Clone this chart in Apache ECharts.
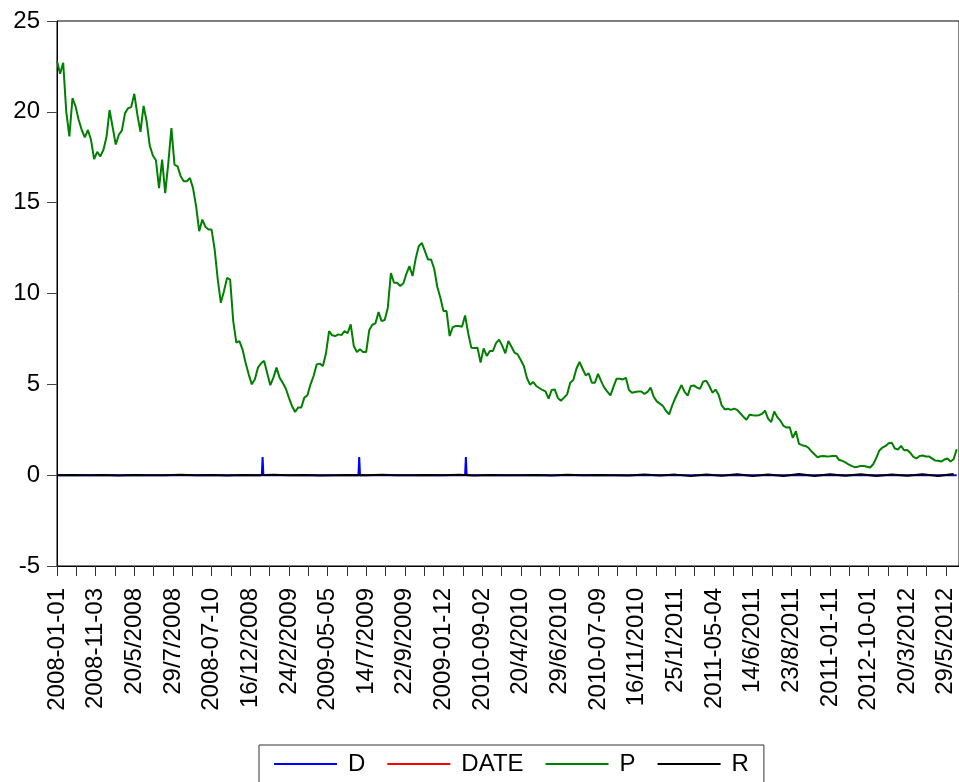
<!DOCTYPE html>
<html>
<head>
<meta charset="utf-8">
<script src="https://cdn.jsdelivr.net/npm/echarts@6/dist/echarts.min.js"></script>
<style>
  html, body { margin: 0; padding: 0; background: #fff; }
  #chart { width: 959px; height: 782px; }
</style>
</head>
<body>
<div id="chart"></div>
<script>
// Observation-axis tick labels, one every 50 observations
const tickLabels = ['2008-01-01', '2008-11-03', '20/5/2008', '29/7/2008', '2008-07-10', '16/12/2008',
  '24/2/2009', '2009-05-05', '14/7/2009', '22/9/2009', '2009-01-12', '2010-09-02', '20/4/2010',
  '29/6/2010', '2010-07-09', '16/11/2010', '25/1/2011', '2011-05-04', '14/6/2011', '23/8/2011',
  '2011-01-11', '2012-10-01', '20/3/2012', '29/5/2012'];
const lastObs = 1164;
const labelEvery = 50;
const tickEvery = 25;

// P: price, sampled every 4 observations
const pStep = 4;
const pValues = [
  22.8, 22.1, 22.7, 20.0, 18.65, 20.75, 20.3, 19.56, 19.0, 18.6,
  19.0, 18.46, 17.4, 17.8, 17.55, 17.9, 18.6, 20.1, 19.16, 18.2,
  18.74, 18.98, 19.93, 20.2, 20.26, 20.99, 19.84, 18.9, 20.33, 19.47,
  18.14, 17.6, 17.33, 15.8, 17.37, 15.53, 17.18, 19.1, 17.1, 17.0,
  16.45, 16.18, 16.18, 16.36, 15.8, 14.8, 13.43, 14.07, 13.67, 13.52,
  13.52, 12.42, 10.77, 9.49, 10.13, 10.86, 10.77, 8.48, 7.29, 7.38,
  6.93, 6.19, 5.55, 5.0, 5.28, 5.92, 6.16, 6.29, 5.61, 4.95,
  5.37, 5.92, 5.37, 5.09, 4.77, 4.27, 3.81, 3.48, 3.72, 3.72,
  4.27, 4.40, 5.00, 5.46, 6.10, 6.14, 6.01, 6.71, 7.93, 7.70,
  7.66, 7.75, 7.71, 7.93, 7.81, 8.30, 7.11, 6.78, 6.93, 6.78,
  6.78, 7.99, 8.28, 8.36, 8.98, 8.48, 8.54, 9.22, 11.12, 10.59,
  10.59, 10.41, 10.55, 11.08, 11.51, 10.96, 11.91, 12.60, 12.79, 12.33,
  11.87, 11.87, 11.36, 10.37, 9.77, 9.03, 9.03, 7.66, 8.15, 8.21,
  8.21, 8.17, 8.79, 7.81, 7.02, 7.00, 7.02, 6.2, 6.98, 6.56,
  6.84, 6.84, 7.27, 7.46, 7.13, 6.71, 7.38, 7.07, 6.74, 6.65,
  6.34, 6.01, 5.35, 4.98, 5.13, 4.91, 4.80, 4.69, 4.61, 4.21,
  4.69, 4.72, 4.25, 4.10, 4.27, 4.45, 5.09, 5.24, 5.86, 6.23,
  5.86, 5.49, 5.60, 5.09, 5.09, 5.58, 5.18, 4.82, 4.60, 4.39,
  4.87, 5.31, 5.31, 5.27, 5.36, 4.69, 4.54, 4.58, 4.61, 4.61,
  4.47, 4.58, 4.82, 4.32, 4.06, 3.94, 3.81, 3.53, 3.35, 3.84,
  4.25, 4.61, 4.96, 4.58, 4.38, 4.91, 4.94, 4.82, 4.76, 5.15,
  5.20, 4.91, 4.54, 4.71, 4.43, 3.84, 3.62, 3.66, 3.59, 3.66,
  3.59, 3.41, 3.22, 3.05, 3.33, 3.30, 3.28, 3.30, 3.37, 3.55,
  3.11, 2.93, 3.5, 3.19, 2.99, 2.71, 2.62, 2.64, 2.05, 2.42,
  1.72, 1.65, 1.61, 1.52, 1.32, 1.15, 0.99, 1.04, 1.06, 1.03,
  1.04, 1.06, 1.06, 0.83, 0.79, 0.70, 0.60, 0.51, 0.44, 0.46,
  0.51, 0.51, 0.46, 0.42, 0.60, 0.95, 1.36, 1.52, 1.61, 1.76,
  1.79, 1.47, 1.41, 1.61, 1.37, 1.39, 1.23, 1.01, 0.92, 1.06,
  1.08, 1.03, 1.03, 0.92, 0.81, 0.79, 0.75, 0.86, 0.92, 0.75,
  0.88, 1.43
];

// D: dummy, zero except three single-day spikes
const dObs = [0, 265, 266, 267, 390, 391, 392, 528, 529, 530, lastObs];
const dVal = [0, 0, 1, 0, 0, 1, 0, 0, 1, 0, 0];

// R: returns, sampled every 20 observations
const rStep = 20;
const rValues = [
  0, 0.01, -0.01, 0.01, -0.02, 0.01, 0, -0.01, 0.02, -0.01,
  0.01, -0.02, 0.01, 0, 0.02, -0.01, 0.01, -0.02, 0, 0.01,
  -0.01, 0.02, -0.01, 0, 0.01, -0.01, 0.02, -0.02, 0.01, 0,
  -0.01, 0.01, -0.02, 0.02, -0.01, 0.01, 0, -0.02, 0.03, -0.02,
  0.03, -0.04, 0.04, -0.03, 0.05, -0.04, 0.04, -0.05, 0.06, -0.04,
  0.05, -0.03, 0.05, -0.04, 0.04, -0.03, 0.05, -0.04, 0.06
];

const FONT = "'Liberation Sans', Arial, sans-serif";

const pData = pValues.map((v, i) => [i * pStep, v]);
const dData = dObs.map((o, i) => [o, dVal[i]]);
const rData = rValues.map((v, i) => [Math.min(i * rStep, lastObs), v]);
const tickValues = [];
for (let o = 0; o <= (tickLabels.length - 1) * labelEvery; o += tickEvery) tickValues.push(o);
const labelValues = tickLabels.map((_, i) => i * labelEvery);

const chart = echarts.init(document.getElementById('chart'), null, { renderer: 'canvas' });
chart.setOption({
  animation: false,
  backgroundColor: '#fff',
  // the plot frame runs past the right edge of the canvas, so only three sides show
  grid: {
    left: 57, right: -3, top: 21, bottom: 216,
    show: true, borderColor: '#000', borderWidth: 1, backgroundColor: 'transparent'
  },
  legend: {
    data: ['D', 'DATE', 'P', 'R'],
    left: 259, top: 745,
    padding: [7, 15, 20, 15],
    backgroundColor: '#fff',
    borderColor: '#333', borderWidth: 1, borderRadius: 0,
    icon: 'rect', itemWidth: 63, itemHeight: 2, itemGap: 22,
    textStyle: { fontFamily: FONT, fontSize: 24, color: '#000', padding: [0, 0, 0, 6] }
  },
  xAxis: {
    type: 'value', min: 0, max: lastObs + 3,
    splitLine: { show: false },
    axisLine: { show: true, onZero: false, lineStyle: { color: '#000', width: 1 } },
    axisTick: { show: true, length: 10, customValues: tickValues, lineStyle: { color: '#333' } },
    axisLabel: {
      customValues: labelValues,
      formatter: v => tickLabels[Math.round(v / labelEvery)],
      rotate: 90, margin: 22,
      fontFamily: FONT, fontSize: 24, color: '#000'
    }
  },
  yAxis: {
    type: 'value', min: -5, max: 25, interval: 5,
    splitLine: { show: false },
    axisLine: { show: true, lineStyle: { color: '#000', width: 1 } },
    axisTick: { show: true, length: 10, lineStyle: { color: '#444' } },
    axisLabel: { margin: 17, fontFamily: FONT, fontSize: 24, color: '#000' }
  },
  series: [
    { name: 'D', type: 'line', data: dData, symbol: 'none', color: '#0000ff',
      lineStyle: { width: 2, color: '#0000ff' } },
    { name: 'DATE', type: 'line', data: [], symbol: 'none', color: '#ff0000',
      lineStyle: { width: 2, color: '#ff0000' } },
    { name: 'P', type: 'line', data: pData, symbol: 'none', color: '#008000',
      lineStyle: { width: 2, color: '#008000' } },
    { name: 'R', type: 'line', data: rData, symbol: 'none', color: '#000000',
      lineStyle: { width: 2, color: '#000000' } }
  ]
});
</script>
</body>
</html>
